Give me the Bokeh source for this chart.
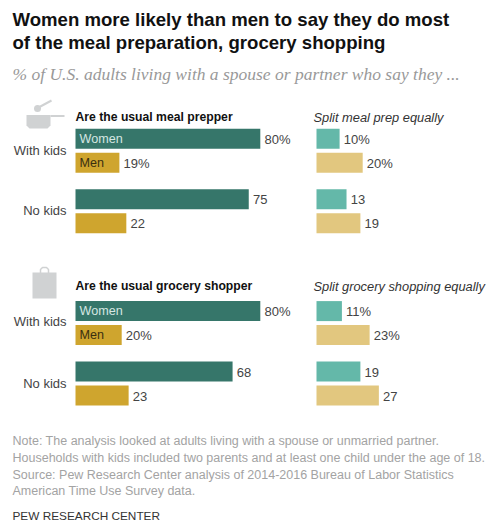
from bokeh.core.properties import value
from bokeh.embed import file_html
from bokeh.models import ColumnDataSource, Range1d
from bokeh.plotting import figure
from bokeh.resources import INLINE

# Survey shares, in percent
households = ["With kids", "No kids"]
meal_usual_women = [80, 75]
meal_usual_men = [19, 22]
meal_split_women = [10, 13]
meal_split_men = [20, 19]
grocery_usual_women = [80, 68]
grocery_usual_men = [20, 23]
grocery_split_women = [11, 19]
grocery_split_men = [23, 27]

# Texts
title_lines = ["Women more likely than men to say they do most",
               "of the meal preparation, grocery shopping"]
subtitle = "% of U.S. adults living with a spouse or partner who say they ..."
note_lines = ["Note: The analysis looked at adults living with a spouse or unmarried partner.",
              "Households with kids included two parents and at least one child under the age of 18.",
              "Source: Pew Research Center analysis of 2014-2016 Bureau of Labor Statistics",
              "American Time Use Survey data."]
credit = "PEW RESEARCH CENTER"

# Palette
DARK_GREEN, GOLD = "#36766a", "#cfa52e"
LIGHT_GREEN, LIGHT_GOLD = "#64b8a9", "#e2c77f"
ICON = "#d0d2d3"
SANS, SERIF = "Liberation Sans", "Liberation Serif"

W, H = 486, 525
PX_PER_POINT = 2.31
LEFT_BASE, RIGHT_BASE = 75, 316

p = figure(width=W, height=H, output_backend="svg", toolbar_location=None,
           x_range=Range1d(0, W), y_range=Range1d(H, 0), min_border=0,
           outline_line_color=None, background_fill_color="white")
p.axis.visible = False
p.grid.visible = False

# Two value scales share the page: one per column of bars
p.extra_x_ranges = {
    "usual": Range1d(-LEFT_BASE / PX_PER_POINT, (W - LEFT_BASE) / PX_PER_POINT),
    "split": Range1d(-RIGHT_BASE / PX_PER_POINT, (W - RIGHT_BASE) / PX_PER_POINT),
}


def label(x, y, txt, size=13, color="#444444", font=SANS, style="normal", align="left",
          x_range_name="default"):
    # y is the text's baseline; anchoring on the middle keeps it stable across sizes
    p.text([x], [y - 0.35 * size], text=[txt], text_font=value(font), text_font_size=f"{size}px",
           text_font_style=style, text_color=color, text_align=align,
           text_baseline="middle", x_range_name=x_range_name)


def bars(values, tops, color, scale):
    src = ColumnDataSource(dict(right=values, top=tops, bottom=[t + 20 for t in tops]))
    p.quad(left=0, right="right", top="top", bottom="bottom", source=src, fill_color=color,
           line_color=None, x_range_name=scale)
    for i, (v, t) in enumerate(zip(values, tops)):
        txt = f"{v}%" if i == 0 else f"{v}"
        label(v + 1.8, t + 15, txt, x_range_name=scale)


def panel(top_row, usual_w, usual_m, split_w, split_m, head_left, head_right, head_y, row_labels_y):
    women_tops = [top_row, top_row + 60.5]
    men_tops = [top_row + 24, top_row + 84.5]
    bars(usual_w, women_tops, DARK_GREEN, "usual")
    bars(usual_m, men_tops, GOLD, "usual")
    bars(split_w, women_tops, LIGHT_GREEN, "split")
    bars(split_m, men_tops, LIGHT_GOLD, "split")
    label(75, head_y, head_left, size=12.2, color="#111111", style="bold")
    label(313, head_y, head_right, size=12.85, color="#333333", style="italic")
    label(79, top_row + 14.5, "Women", size=12.6, color="#d5e6e2")
    label(79, top_row + 38.5, "Men", size=12.6, color="#3a2f10")
    for name, y in zip(households, row_labels_y):
        label(66, y, name, align="right")


# Headline block
label(12, 25.5, title_lines[0], size=18.6, color="#111111", style="bold")
label(12, 49, title_lines[1], size=18.6, color="#111111", style="bold")
label(12, 80, subtitle, size=17.5, color="#999999", font=SERIF, style="italic")

panel(128.3, meal_usual_women, meal_usual_men, meal_split_women, meal_split_men,
      "Are the usual meal prepper", "Split meal prep equally", 121, [155, 215])
panel(300.6, grocery_usual_women, grocery_usual_men, grocery_split_women, grocery_split_men,
      "Are the usual grocery shopper", "Split grocery shopping equally", 290, [326, 387.5])

# Saucepan icon
p.patch([26, 50, 50, 47, 29, 26], [114.5, 114.5, 125, 128, 128, 125], fill_color=ICON, line_color=None)
p.line([50, 64], [115.5, 115.5], line_color=ICON, line_width=2)
p.line([38, 51], [107, 100], line_color=ICON, line_width=2)
p.scatter([37], [108], size=7, fill_color=ICON, line_color=None)

# Shopping bag icon
p.quad(left=32, right=56, top=272, bottom=298, fill_color=ICON, line_color=None)
p.line([40, 40, 42, 46, 48, 48], [274, 269, 267, 267, 269, 274], line_color=ICON, line_width=1.5)

# Footer
for line, y in zip(note_lines, [445, 462, 478.5, 495]):
    label(12, y, line, size=12.5, color="#a3a3a3")
label(12, 520, credit, size=11.8, color="#333333")

open("out.html", "w").write(file_html(p, INLINE))
